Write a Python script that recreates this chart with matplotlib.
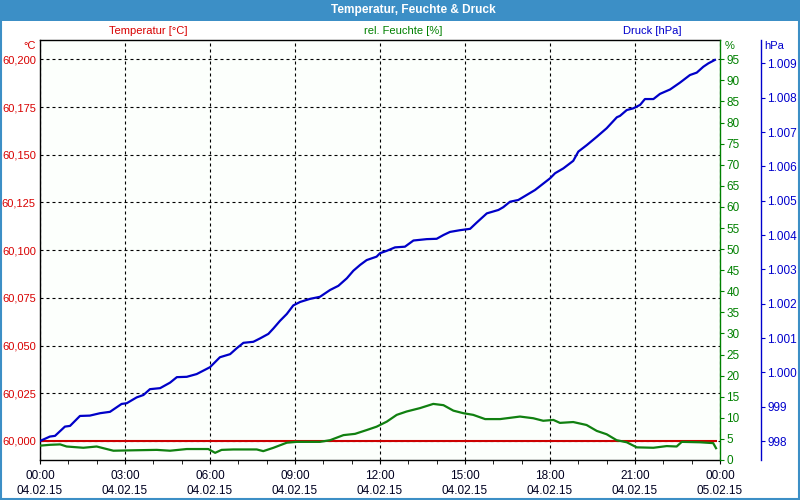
import matplotlib
matplotlib.use("Agg")
import matplotlib.pyplot as plt
from matplotlib.patches import Rectangle
from matplotlib.ticker import MultipleLocator, FuncFormatter

plt.rcParams['font.family'] = ['Liberation Sans', 'DejaVu Sans']
plt.rcParams['font.size'] = 8

# Druck (hPa) over the day, hours since 04.02.15 00:00
p_hours = [0.00, 0.35, 0.53, 0.88, 1.06, 1.41, 1.76, 2.12, 2.47, 2.88, 3.06, 3.41, 3.65, 3.88,
           4.24, 4.59, 4.83, 5.18, 5.53, 6.00, 6.35, 6.71, 6.94, 7.18, 7.53, 7.77, 8.06, 8.24,
           8.47, 8.71, 8.94, 9.18, 9.53, 9.88, 10.24, 10.53, 10.83, 11.06, 11.30, 11.53, 11.88,
           12.00, 12.24, 12.53, 12.88, 13.18, 13.65, 14.00, 14.24, 14.47, 14.82, 15.18, 15.41,
           15.77, 16.18, 16.35, 16.59, 16.88, 17.47, 18.00, 18.18, 18.47, 18.82, 19.00, 19.30,
           19.65, 20.00, 20.36, 20.47, 20.71, 20.94, 21.18, 21.35, 21.65, 21.88, 22.24, 22.59,
           22.94, 23.18, 23.41, 23.59, 23.82]
druck = [998.00, 998.13, 998.15, 998.42, 998.44, 998.73, 998.74, 998.81, 998.85, 999.08, 999.10,
         999.27, 999.34, 999.51, 999.54, 999.70, 999.86, 999.87, 999.95, 1000.15, 1000.44,
         1000.53, 1000.70, 1000.86, 1000.89, 1000.99, 1001.12, 1001.28, 1001.50, 1001.70,
         1001.95, 1002.05, 1002.14, 1002.20, 1002.40, 1002.52, 1002.74, 1002.96, 1003.13,
         1003.27, 1003.37, 1003.47, 1003.54, 1003.64, 1003.66, 1003.84, 1003.88, 1003.89,
         1004.00, 1004.09, 1004.14, 1004.18, 1004.36, 1004.63, 1004.73, 1004.81, 1004.97,
         1005.02, 1005.31, 1005.65, 1005.80, 1005.94, 1006.16, 1006.43, 1006.62, 1006.86,
         1007.11, 1007.43, 1007.47, 1007.64, 1007.69, 1007.79, 1007.96, 1007.96, 1008.11,
         1008.24, 1008.44, 1008.66, 1008.73, 1008.90, 1009.00, 1009.10]

# rel. Feuchte (%)
h_hours = [0.00, 0.35, 0.71, 0.94, 1.53, 2.00, 2.59, 3.29, 4.12, 4.59, 5.18, 5.94, 6.18, 6.41,
           6.82, 7.65, 7.88, 8.24, 8.71, 9.06, 9.88, 10.24, 10.71, 11.12, 11.53, 11.88, 12.24,
           12.59, 12.94, 13.41, 13.88, 14.24, 14.59, 14.94, 15.29, 15.71, 16.24, 16.94, 17.41,
           17.76, 18.12, 18.35, 18.82, 19.29, 19.65, 20.00, 20.35, 20.71, 21.06, 21.65, 22.12,
           22.47, 22.65, 23.29, 23.76, 23.86]
feuchte = [3.4, 3.6, 3.7, 3.2, 2.9, 3.2, 2.2, 2.3, 2.4, 2.2, 2.6, 2.6, 1.7, 2.4, 2.5, 2.5, 2.1,
           2.9, 4.1, 4.3, 4.3, 4.7, 5.9, 6.2, 7.1, 7.9, 9.1, 10.7, 11.5, 12.3, 13.3, 13.0, 11.7,
           11.1, 10.7, 9.7, 9.7, 10.3, 9.9, 9.3, 9.5, 8.8, 9.0, 8.3, 6.9, 6.1, 4.7, 4.2, 3.0,
           2.9, 3.3, 3.2, 4.3, 4.2, 4.0, 2.8]

# Temperatur (°C)
t_hours = [0.00, 23.86]
temperatur = [60.000, 60.000]

x_ticks = [0, 3, 6, 9, 12, 15, 18, 21, 24]
x_labels = ["00:00\n04.02.15", "03:00\n04.02.15", "06:00\n04.02.15", "09:00\n04.02.15",
            "12:00\n04.02.15", "15:00\n04.02.15", "18:00\n04.02.15", "21:00\n04.02.15",
            "00:00\n05.02.15"]

RED = '#d80000'
GREEN = '#008000'
BLUE = '#0000cc'
BAR = '#3c8fc6'

fig = plt.figure(figsize=(8, 5), dpi=100)
fig.patch.set_facecolor('white')

# title bar and window border
fig.patches.append(Rectangle((0, 1 - 21 / 500), 1, 21 / 500, transform=fig.transFigure,
                             facecolor=BAR, edgecolor='none', zorder=0))
fig.patches.append(Rectangle((0.001, 0.002), 0.998, 0.99, transform=fig.transFigure,
                             facecolor='none', edgecolor=BAR, linewidth=1.5, zorder=0))
fig.text(413 / 800, 1 - 10.5 / 500, "Temperatur, Feuchte & Druck", color='white',
         fontweight='bold', fontsize=8.6, ha='center', va='center')

ax = fig.add_axes([40 / 800, 40 / 500, 680 / 800, 420 / 500])
ax.set_facecolor('#fcfffc')
ax.plot(t_hours, temperatur, color='#cc0000', linewidth=1.5, zorder=3)
ax.set_xlim(0, 24)
ax.set_ylim(59.99004, 60.21011)
ax.set_yticks([60.000, 60.025, 60.050, 60.075, 60.100, 60.125, 60.150, 60.175, 60.200])
ax.yaxis.set_major_formatter(FuncFormatter(lambda v, p: f"{v:.3f}".replace('.', ',')))
ax.tick_params(axis='y', length=0, pad=3, colors=RED, labelsize=8)
ax.set_xticks(x_ticks)
ax.set_xticklabels(x_labels, linespacing=1.4)
ax.xaxis.set_minor_locator(MultipleLocator(1))
ax.tick_params(axis='x', which='major', length=3, pad=4, labelsize=8.5, color='black',
               labelcolor='#000020')
ax.tick_params(axis='x', which='minor', length=3, color='black')
ax.grid(True, color='black', linestyle=(0, (2.7, 2.7)), linewidth=0.8)
for s in ['left', 'bottom', 'top']:
    ax.spines[s].set_color('black')
    ax.spines[s].set_linewidth(1.0)
ax.spines['right'].set_visible(False)

ax2 = ax.twinx()
ax2.plot(h_hours, feuchte, color='#108010', linewidth=1.6, zorder=3)
ax2.set_ylim(0, 99.58)
ax2.yaxis.set_major_locator(MultipleLocator(5))
ax2.tick_params(axis='y', length=3, pad=1.5, colors=GREEN, labelsize=8.5)
for s in ['left', 'bottom', 'top']:
    ax2.spines[s].set_visible(False)
ax2.spines['right'].set_color(GREEN)
ax2.spines['right'].set_linewidth(1.0)

ax3 = ax.twinx()
ax3.plot(p_hours, druck, color='#0000c8', linewidth=1.6, zorder=4)
ax3.set_ylim(997.447, 1009.68)
ax3.yaxis.set_major_locator(MultipleLocator(1))
ax3.yaxis.set_major_formatter(FuncFormatter(lambda v, p: f"{int(round(v)):,}".replace(',', '.')))
ax3.spines['right'].set_position(('outward', 29.5))
for s in ['left', 'bottom', 'top']:
    ax3.spines[s].set_visible(False)
ax3.spines['right'].set_color(BLUE)
ax3.spines['right'].set_linewidth(1.0)
ax3.tick_params(axis='y', length=3, pad=1.5, colors=BLUE, labelsize=8.5)

# axis captions above the plot
fig.text(148 / 800, 1 - 31.5 / 500, "Temperatur [°C]", color=RED, ha='center', va='center')
fig.text(403 / 800, 1 - 31.5 / 500, "rel. Feuchte [%]", color=GREEN, ha='center', va='center')
fig.text(652 / 800, 1 - 31.5 / 500, "Druck [hPa]", color=BLUE, ha='center', va='center')
fig.text(36 / 800, 1 - 46 / 500, "°C", color=RED, ha='right', va='center')
fig.text(725 / 800, 1 - 46 / 500, "%", color=GREEN, ha='left', va='center')
fig.text(764 / 800, 1 - 46 / 500, "hPa", color=BLUE, ha='left', va='center')

fig.savefig("out.png", dpi=100)
